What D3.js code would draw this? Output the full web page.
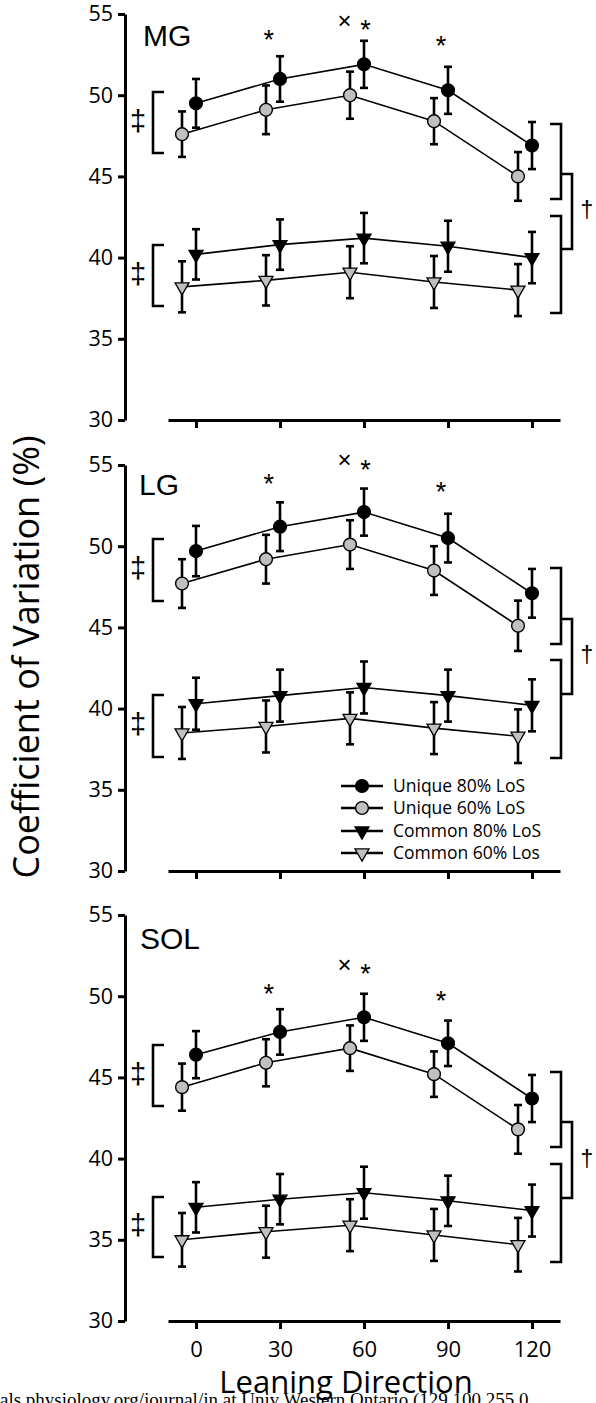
<!DOCTYPE html>
<html><head><meta charset="utf-8">
<script src="https://cdn.jsdelivr.net/npm/d3@7"></script>
<style>body{margin:0;background:#fff;} svg{display:block;}</style>
</head><body>
<script>
// ---------------- DATA ----------------
const categories = [0, 30, 60, 90, 120];
const yTicks = [30, 35, 40, 45, 50, 55];
const seriesNames = ["Unique 80% LoS", "Unique 60% LoS", "Common 80% LoS", "Common 60% Los"];
const panelNames = ["MG", "LG", "SOL"];

// MG
const mgUnique80   = [49.5, 51.0, 51.9, 50.3, 46.9];
const mgUnique80Sd = [1.5, 1.4, 1.45, 1.45, 1.45];
const mgUnique60   = [47.6, 49.1, 50.0, 48.4, 45.0];
const mgUnique60Sd = [1.4, 1.5, 1.45, 1.42, 1.5];
const mgCommon80   = [40.2, 40.8, 41.2, 40.7, 40.0];
const mgCommon80Sd = [1.55, 1.55, 1.55, 1.57, 1.58];
const mgCommon60   = [38.2, 38.6, 39.1, 38.5, 38.0];
const mgCommon60Sd = [1.57, 1.55, 1.6, 1.6, 1.6];
// LG
const lgUnique80   = [49.7, 51.2, 52.1, 50.5, 47.1];
const lgUnique80Sd = [1.55, 1.5, 1.45, 1.5, 1.5];
const lgUnique60   = [47.7, 49.2, 50.1, 48.5, 45.1];
const lgUnique60Sd = [1.5, 1.5, 1.5, 1.5, 1.55];
const lgCommon80   = [40.3, 40.8, 41.3, 40.8, 40.2];
const lgCommon80Sd = [1.6, 1.6, 1.6, 1.6, 1.6];
const lgCommon60   = [38.5, 38.9, 39.4, 38.8, 38.3];
const lgCommon60Sd = [1.6, 1.6, 1.6, 1.6, 1.65];
// SOL
const solUnique80   = [46.4, 47.8, 48.7, 47.1, 43.7];
const solUnique80Sd = [1.45, 1.4, 1.45, 1.4, 1.45];
const solUnique60   = [44.4, 45.9, 46.8, 45.2, 41.8];
const solUnique60Sd = [1.45, 1.45, 1.4, 1.4, 1.5];
const solCommon80   = [37.0, 37.5, 37.9, 37.4, 36.8];
const solCommon80Sd = [1.55, 1.55, 1.6, 1.55, 1.6];
const solCommon60   = [35.0, 35.5, 35.9, 35.3, 34.7];
const solCommon60Sd = [1.65, 1.6, 1.6, 1.6, 1.65];

// ---------------- LAYOUT / STYLE ----------------
const W = 596, H = 1403;
const GRAY = "#c0c0c0";
const seriesStyles = [
  {shape: "circle", fill: "#000", shift: 0},
  {shape: "circle", fill: GRAY, shift: -5},
  {shape: "triangle", fill: "#000", shift: 0},
  {shape: "triangle", fill: GRAY, shift: -5}
];
const panelTops = [14, 465, 915];
const panelH = 406;
// annotation offsets (px relative to panel top)
const annot = [
  {labelY: 32, labelX: 143, s30: 19, cross: 7, s60: 9, s90: 25,
   lU: [78, 139], lC: [231, 292], rU: [110, 185], rC: [202, 299], outer: [160, 235]},
  {labelY: 30, labelX: 139, s30: 12, cross: -5, s60: -2, s90: 20,
   lU: [74, 136], lC: [230, 292], rU: [103, 179], rC: [195, 293], outer: [154, 229]},
  {labelY: 34, labelX: 140, s30: 72, cross: 50, s60: 52, s90: 79,
   lU: [130, 191], lC: [282, 342], rU: [157, 232], rC: [249, 347], outer: [207, 283]}
];

const panelData = [
  [[mgUnique80, mgUnique80Sd], [mgUnique60, mgUnique60Sd], [mgCommon80, mgCommon80Sd], [mgCommon60, mgCommon60Sd]],
  [[lgUnique80, lgUnique80Sd], [lgUnique60, lgUnique60Sd], [lgCommon80, lgCommon80Sd], [lgCommon60, lgCommon60Sd]],
  [[solUnique80, solUnique80Sd], [solUnique60, solUnique60Sd], [solCommon80, solCommon80Sd], [solCommon60, solCommon60Sd]]
];

const svg = d3.select("body").append("svg").attr("width", W).attr("height", H);

const x = d3.scaleLinear().domain([-10, 130]).range([168, 560]);

const circleSym = d3.symbol().type(d3.symbolCircle).size(Math.PI * 6.4 * 6.4);
const triSym = d3.symbol().type(d3.symbolTriangle).size(14 * 14 * Math.sqrt(3) / 4);

function drawMarker(g, shape, fill, cx, cy) {
  if (shape === "circle") {
    g.append("path").attr("d", circleSym()).attr("transform", `translate(${cx},${cy})`)
      .attr("fill", fill).attr("stroke", "#000").attr("stroke-width", 1.4);
  } else {
    g.append("path").attr("d", triSym()).attr("transform", `translate(${cx},${cy}) rotate(180)`)
      .attr("fill", fill).attr("stroke", "#000").attr("stroke-width", 1.3);
  }
}

const sans = "'Open Sans', sans-serif";
const arial = "'Liberation Sans', Arial, sans-serif";

panelNames.forEach((pname, pi) => {
  const top = panelTops[pi];
  const a = annot[pi];
  const y = d3.scaleLinear().domain([30, 55]).range([top + panelH, top]);
  const g = svg.append("g");

  // y axis
  const ya = g.append("g").attr("transform", "translate(125,0)")
    .call(d3.axisLeft(y).tickValues(yTicks).tickSize(7).tickSizeOuter(0).tickPadding(5));
  ya.select(".domain").attr("stroke-width", 3);
  ya.selectAll(".tick line").attr("stroke-width", 3);
  ya.selectAll(".tick text").attr("font-family", sans).attr("font-size", 21.5).attr("fill", "#000");

  // x axis
  const xa = g.append("g").attr("transform", `translate(0,${y(30)})`)
    .call(d3.axisBottom(x).tickValues(categories).tickSize(8).tickSizeOuter(0).tickPadding(12)
      .tickFormat(pi === 2 ? d3.format("d") : () => ""));
  xa.select(".domain").attr("stroke-width", 3);
  xa.selectAll(".tick line").attr("stroke-width", 3);
  xa.selectAll(".tick text").attr("font-family", sans).attr("font-size", 22).attr("fill", "#000");

  const series = panelData[pi];
  // error bars
  series.forEach(([vals, sds], si) => {
    const st = seriesStyles[si];
    vals.forEach((v, i) => {
      const cx = x(categories[i] + st.shift);
      const y1 = y(v + sds[i]), y2 = y(v - sds[i]);
      g.append("line").attr("x1", cx).attr("x2", cx).attr("y1", y1).attr("y2", y2)
        .attr("stroke", "#000").attr("stroke-width", 2.6);
      [y1, y2].forEach(yy => g.append("line").attr("x1", cx - 4).attr("x2", cx + 4)
        .attr("y1", yy).attr("y2", yy).attr("stroke", "#000").attr("stroke-width", 2.6));
    });
  });
  // lines
  series.forEach(([vals], si) => {
    const st = seriesStyles[si];
    const line = d3.line().x((d, i) => x(categories[i] + st.shift)).y(d => y(d));
    g.append("path").attr("d", line(vals)).attr("fill", "none").attr("stroke", "#000").attr("stroke-width", 1.6);
  });
  // markers
  series.forEach(([vals], si) => {
    const st = seriesStyles[si];
    vals.forEach((v, i) => drawMarker(g, st.shape, st.fill, x(categories[i] + st.shift), y(v)));
  });

  // panel label
  g.append("text").attr("x", a.labelX).attr("y", top + a.labelY).text(pname)
    .attr("font-family", arial).attr("font-size", 30).attr("fill", "#000");

  // significance marks
  const starFs = 27, starOff = 0.585 * starFs, crossOff = 0.35 * 24;
  const star = (cxv, cy) => g.append("text").attr("x", x(cxv)).attr("y", top + cy + starOff)
    .attr("text-anchor", "middle").attr("font-family", arial).attr("font-size", starFs).attr("fill", "#000").text("*");
  star(26, a.s30); star(60.5, a.s60); star(87.5, a.s90);
  g.append("text").attr("x", x(53)).attr("y", top + a.cross + crossOff)
    .attr("text-anchor", "middle").attr("font-family", arial).attr("font-size", 24).attr("fill", "#000").text("×");

  // brackets
  const bracket = (x0, x1, yy) => g.append("path")
    .attr("d", `M${x1},${top + yy[0]}H${x0}V${top + yy[1]}H${x1}`)
    .attr("fill", "none").attr("stroke", "#000").attr("stroke-width", 2.6);
  bracket(153, 164, a.lU); bracket(153, 164, a.lC);
  bracket(561, 550, a.rU); bracket(561, 550, a.rC); bracket(572, 561, a.outer);

  const ddFs = 29;
  [a.lU, a.lC].forEach(r => g.append("text").attr("x", 138).attr("y", top + (r[0] + r[1]) / 2 + 0.285 * ddFs)
    .attr("text-anchor", "middle").attr("font-family", arial).attr("font-size", ddFs).attr("fill", "#000").text("‡"));
  g.append("text").attr("x", 587).attr("y", top + (a.outer[0] + a.outer[1]) / 2 + 0.285 * 23)
    .attr("text-anchor", "middle").attr("font-family", arial).attr("font-size", 23).attr("fill", "#000").text("†");

  // legend in LG panel
  if (pi === 1) {
    const rows = [321, 343, 366, 388];
    seriesNames.forEach((nm, si) => {
      const st = seriesStyles[si];
      const yy = top + rows[si];
      g.append("line").attr("x1", 341).attr("x2", 383).attr("y1", yy).attr("y2", yy)
        .attr("stroke", "#000").attr("stroke-width", 2.6);
      drawMarker(g, st.shape, st.fill, 362, yy);
      g.append("text").attr("x", 393).attr("y", yy).attr("dy", "0.35em").text(nm)
        .attr("font-family", sans).attr("font-size", 17.5).attr("fill", "#000");
    });
  }
});

// axis titles
svg.append("text").attr("transform", "translate(39,657) rotate(-90)").attr("text-anchor", "middle")
  .attr("font-family", sans).attr("font-size", 36).attr("fill", "#000").text("Coefficient of Variation (%)");
svg.append("text").attr("x", 346).attr("y", 1393).attr("text-anchor", "middle")
  .attr("font-family", sans).attr("font-size", 31).attr("fill", "#000").text("Leaning Direction");

// source watermark (clipped at the bottom edge)
const wm = svg.append("text").attr("y", 1406).attr("font-family", "'Liberation Serif', serif")
  .attr("font-size", 19).attr("fill", "#000")
  .text("Downloaded from journals.physiology.org/journal/jn at Univ Western Ontario (129.100.255.0");
const prefix = "Downloaded from journ".length;
wm.attr("x", -wm.node().getSubStringLength(0, prefix));
</script>
</body></html>
